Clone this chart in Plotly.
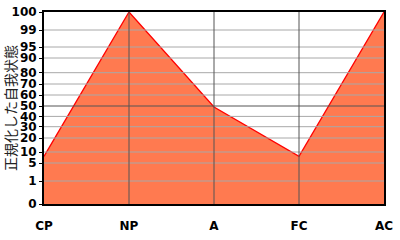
import numpy as np
import plotly.graph_objects as go

categories = ["CP", "NP", "A", "FC", "AC"]
values = [8, 100, 49, 8, 100]

# percentile tick labels and their positions on the (non-linear) egogram scale
tick_labels = [0, 1, 5, 10, 20, 30, 40, 50, 60, 70, 80, 90, 95, 99, 100]
tick_pos = [0, 23, 41, 52, 66, 77.3, 87.6, 98, 109, 120, 131.3, 146, 157, 174, 192]


def scale(v):
    return np.interp(v, tick_labels, tick_pos)


xs = list(range(len(categories)))
fig = go.Figure()
fig.add_trace(go.Scatter(
    x=xs, y=scale(values), mode="lines", fill="tozeroy",
    fillcolor="#FF7A50", line=dict(color="#FF0000", width=1.3),
    hoverinfo="skip", showlegend=False,
))

shapes = []
for lab, p in zip(tick_labels, tick_pos):
    if lab in (0, 100):
        continue
    shapes.append(dict(type="line", xref="x", yref="y", x0=xs[0], x1=xs[-1], y0=p, y1=p,
                       line=dict(color="#555555" if lab == 50 else "#A8A8A8", width=1),
                       layer="above"))
for x in xs[1:-1]:
    shapes.append(dict(type="line", xref="x", yref="y", x0=x, x1=x, y0=tick_pos[0], y1=tick_pos[-1],
                       line=dict(color="#555555", width=1), layer="above"))

tf = dict(family="DejaVu Sans", size=12, color="black", weight="bold")
fig.update_layout(
    width=400, height=240,
    margin=dict(l=44, r=16, t=12, b=36, autoexpand=False),
    paper_bgcolor="white", plot_bgcolor="white",
    shapes=shapes,
    font=dict(family="DejaVu Sans", size=12, color="black"),
    xaxis=dict(range=[xs[0], xs[-1]], tickvals=xs, ticktext=categories, showgrid=False,
               zeroline=False, showline=True, linecolor="black", linewidth=2, mirror=True,
               ticks="outside", ticklen=10, tickcolor="rgba(0,0,0,0)", automargin=False,
               tickfont=tf),
    yaxis=dict(range=[tick_pos[0], tick_pos[-1]], tickvals=tick_pos,
               ticktext=[str(t) for t in tick_labels], showgrid=False, zeroline=False,
               showline=True, linecolor="black", linewidth=2, mirror=True,
               ticks="outside", ticklen=3, tickcolor="black", automargin=False,
               tickfont=tf,
               title=dict(text="正規化した自我状態", standoff=0,
                          font=dict(family="Noto Sans CJK JP", size=14, color="#222222"))),
)

fig.write_html("out.html")
